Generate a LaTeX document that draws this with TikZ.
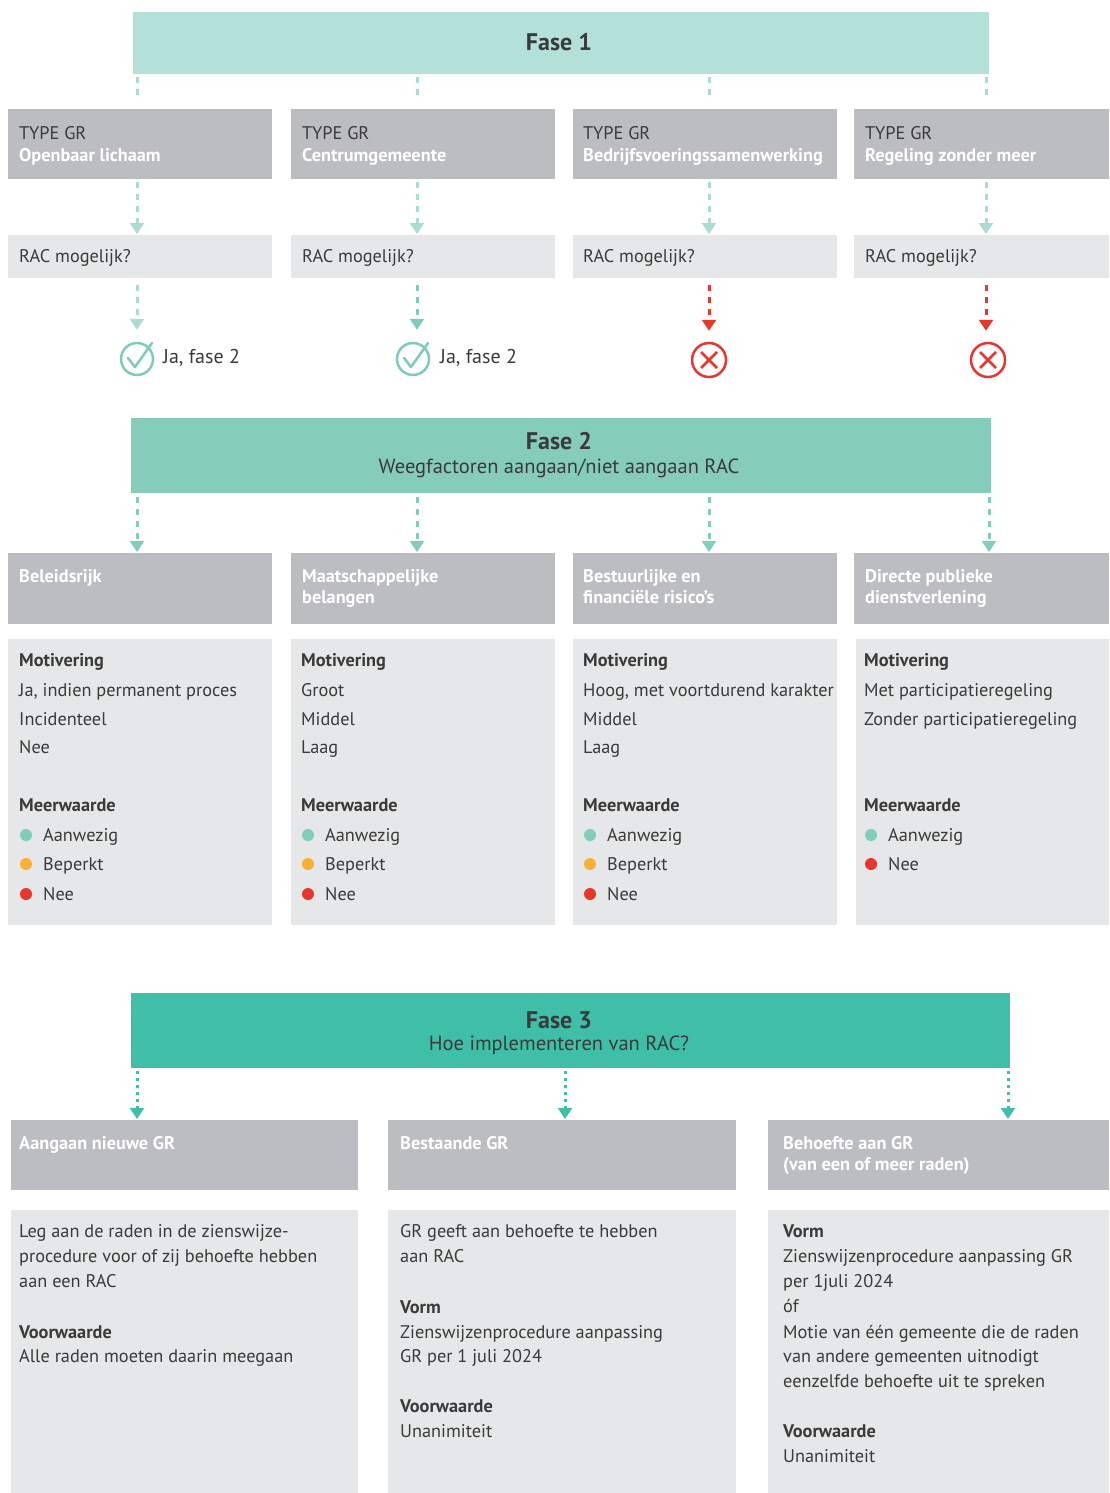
\documentclass[tikz,border=0pt]{standalone}
\usepackage{fontspec}
\setmainfont{PT Sans}
\usetikzlibrary{arrows.meta}
\definecolor{f1c}{HTML}{B3E0D9}
\definecolor{f2c}{HTML}{85CCBB}
\definecolor{f3c}{HTML}{40BFA8}
\definecolor{grayhdr}{HTML}{BCBDC0}
\definecolor{graybox}{HTML}{E6E7E8}
\definecolor{txt}{HTML}{3A3A3A}
\definecolor{redc}{HTML}{E8362D}
\definecolor{orc}{HTML}{F8B133}
\definecolor{tealdot}{HTML}{7FCDBA}
\definecolor{arrlight}{HTML}{ABDCD4}
\definecolor{arrdark}{HTML}{7ECBB9}
\tikzset{
  box/.style={inner sep=0pt, outer sep=0pt, anchor=north west},
  hdrbox/.style={box, fill=grayhdr},
  lbox/.style={box, fill=graybox},
  tx/.style={anchor=base west, inner sep=0pt, font=\fontsize{18.3}{22}\selectfont, text=txt},
  btx/.style={anchor=base west, inner sep=0pt, font=\bfseries\fontsize{18.3}{22}\selectfont, text=txt},
  wtx/.style={anchor=base west, inner sep=0pt, font=\bfseries\fontsize{18.3}{22}\selectfont, text=white},
  ttl/.style={inner sep=0pt, font=\bfseries\fontsize{24}{28}\selectfont, text=txt},
  sub/.style={inner sep=0pt, font=\fontsize{20.5}{24}\selectfont, text=txt},
  tip/.style={-{Triangle[width=14pt,length=11pt]}},
  dashA/.style={line width=3pt, dash pattern=on 6pt off 6pt},
  dotB/.style={line width=3pt, dash pattern=on 3pt off 4pt},
  bul/.style={circle, inner sep=0pt, minimum size=12pt},
}
\begin{document}
\begin{tikzpicture}[x=1pt,y=-1pt]
\useasboundingbox (0,0) rectangle (1109,1493);
\fill[white] (0,0) rectangle (1109,1493);
% arrow x positions
\coordinate (ax1) at (137,0);
\coordinate (ax2) at (417,0);
\coordinate (ax3) at (709,0);
\coordinate (ax4) at (986,0);
\coordinate (bx4) at (989,0);
\coordinate (cx1) at (137,0);
\coordinate (cx2) at (565,0);
\coordinate (cx3) at (1008,0);

% ================= FASE 1 =================
\node[box, fill=f1c, minimum width=856pt, minimum height=62pt] (f1) at (133,12) {};
\node[ttl] (f1t) at (559,42) {Fase 1};

\node[hdrbox, minimum width=264pt, minimum height=70pt] (t1) at (8,109) {};
\node[hdrbox, minimum width=264pt, minimum height=70pt] (t2) at (291,109) {};
\node[hdrbox, minimum width=264pt, minimum height=70pt] (t3) at (573,109) {};
\node[hdrbox, minimum width=255pt, minimum height=70pt] (t4) at (854,109) {};
\node[tx] (t1a) at (19,139.5) {TYPE GR};
\node[wtx] (t1b) at (19,161) {Openbaar lichaam};
\node[tx] (t2a) at (302,139.5) {TYPE GR};
\node[wtx] (t2b) at (302,161) {Centrumgemeente};
\node[tx] (t3a) at (583,139.5) {TYPE GR};
\node[wtx] (t3b) at (583,161) {Bedrijfsvoeringssamenwerking};
\node[tx] (t4a) at (865,139.5) {TYPE GR};
\node[wtx] (t4b) at (865,161) {Regeling zonder meer};

\node[lbox, minimum width=264pt, minimum height=43pt] (r1) at (8,235) {};
\node[lbox, minimum width=264pt, minimum height=43pt] (r2) at (291,235) {};
\node[lbox, minimum width=264pt, minimum height=43pt] (r3) at (573,235) {};
\node[lbox, minimum width=255pt, minimum height=43pt] (r4) at (854,235) {};
\node[tx] (r1t) at (19,262) {RAC mogelijk?};
\node[tx] (r2t) at (302,262) {RAC mogelijk?};
\node[tx] (r3t) at (583,262) {RAC mogelijk?};
\node[tx] (r4t) at (865,262) {RAC mogelijk?};

% dashes fase1 -> types
\foreach \k in {1,2,3,4}{
  \draw[arrlight, dashA, shorten <=3pt, shorten >=8pt] (f1.south -| ax\k) -- (t\k.north -| ax\k);
  \draw[arrlight, dashA, tip, shorten <=3pt, shorten >=1pt] (t\k.south -| ax\k) -- (r\k.north -| ax\k);
}

% outcome icons
\node[circle, draw=arrdark, line width=2.5pt, minimum size=32pt, inner sep=0pt] (c1) at (137,359) {};
\node[circle, draw=arrdark, line width=2.5pt, minimum size=32pt, inner sep=0pt] (c2) at (413,359) {};
\foreach \k in {1,2}{
  \draw[arrdark, line width=2.5pt, line cap=round, line join=round]
    ([shift={(-9pt,1pt)}]c\k.center) -- ([shift={(-2pt,-8pt)}]c\k.center) -- ([shift={(15pt,16pt)}]c\k.center);
}
\node[tx, font=\fontsize{20}{24}\selectfont] (c1t) at (163,363) {Ja, fase 2};
\node[tx, font=\fontsize{20}{24}\selectfont] (c2t) at (440,363) {Ja, fase 2};
\node[circle, draw=redc, line width=2.5pt, minimum size=34pt, inner sep=0pt] (x3) at (709,360) {};
\node[circle, draw=redc, line width=2.5pt, minimum size=34pt, inner sep=0pt] (x4) at (988,360) {};
\foreach \k in {3,4}{
  \draw[redc, line width=2.5pt] ([shift={(-8pt,-8pt)}]x\k.center) -- ([shift={(8pt,8pt)}]x\k.center);
  \draw[redc, line width=2.5pt] ([shift={(-8pt,8pt)}]x\k.center) -- ([shift={(8pt,-8pt)}]x\k.center);
}
\draw[arrlight, dashA, tip, shorten <=7pt, shorten >=12pt] (r1.south -| ax1) -- (c1.north -| ax1);
\draw[arrdark, dashA, tip, shorten <=7pt, shorten >=12pt] (r2.south -| ax2) -- (c2.north -| ax2);
\draw[redc, dashA, tip, shorten <=7pt, shorten >=11pt] (r3.south -| ax3) -- (x3.north);
\draw[redc, dashA, tip, shorten <=7pt, shorten >=11pt] (r4.south -| ax4) -- (x4.north -| ax4);

% ================= FASE 2 =================
\node[box, fill=f2c, minimum width=860pt, minimum height=75pt] (f2) at (131,418) {};
\node[ttl] (f2t) at (559,441) {Fase 2};
\node[sub] (f2s) at (559,468) {Weegfactoren aangaan/niet aangaan RAC};

\node[hdrbox, minimum width=264pt, minimum height=71pt] (h1) at (8,553) {};
\node[hdrbox, minimum width=264pt, minimum height=71pt] (h2) at (291,553) {};
\node[hdrbox, minimum width=264pt, minimum height=71pt] (h3) at (573,553) {};
\node[hdrbox, minimum width=255pt, minimum height=71pt] (h4) at (854,553) {};
\node[wtx] (h1a) at (19,582) {Beleidsrijk};
\node[wtx] (h2a) at (302,582) {Maatschappelijke};
\node[wtx] (h2b) at (302,603) {belangen};
\node[wtx] (h3a) at (583,582) {Bestuurlijke en};
\node[wtx] (h3b) at (583,603) {financiële risico’s};
\node[wtx] (h4a) at (865,582) {Directe publieke};
\node[wtx] (h4b) at (865,603) {dienstverlening};

\draw[f2c, dashA, tip, shorten <=4pt, shorten >=1pt] (f2.south -| ax1) -- (h1.north -| ax1);
\draw[f2c, dashA, tip, shorten <=4pt, shorten >=1pt] (f2.south -| ax2) -- (h2.north -| ax2);
\draw[f2c, dashA, tip, shorten <=4pt, shorten >=1pt] (f2.south -| ax3) -- (h3.north -| ax3);
\draw[f2c, dashA, tip, shorten <=4pt, shorten >=1pt] (f2.south -| bx4) -- (h4.north -| bx4);

\node[lbox, minimum width=264pt, minimum height=286pt] (m1) at (8,639) {};
\node[lbox, minimum width=264pt, minimum height=286pt] (m2) at (291,639) {};
\node[lbox, minimum width=264pt, minimum height=286pt] (m3) at (573,639) {};
\node[lbox, minimum width=253pt, minimum height=286pt] (m4) at (856,639) {};

% column texts
\foreach \x/\a/\b/\c [count=\i] in {19/{Ja, indien permanent proces}/Incidenteel/Nee, 301/Groot/Middel/Laag, 583/{Hoog, met voortdurend karakter}/Middel/Laag}{
  \node[btx] (mo\i) at (\x,666) {Motivering};
  \node[tx] (ma\i) at (\x,696) {\a};
  \node[tx] (mb\i) at (\x,725) {\b};
  \node[tx] (mc\i) at (\x,753) {\c};
  \node[btx] (mw\i) at (\x,811) {Meerwaarde};
  \node[bul, fill=tealdot] (ba\i) at (\x+7,835) {};
  \node[bul, fill=orc] (bb\i) at (\x+7,864) {};
  \node[bul, fill=redc] (bc\i) at (\x+7,894) {};
  \node[tx] (la\i) at (\x+24,841) {Aanwezig};
  \node[tx] (lb\i) at (\x+24,870) {Beperkt};
  \node[tx] (lc\i) at (\x+24,900) {Nee};
}
\node[btx] (mo4) at (864,666) {Motivering};
\node[tx] (ma4) at (864,696) {Met participatieregeling};
\node[tx] (mb4) at (864,725) {Zonder participatieregeling};
\node[btx] (mw4) at (864,811) {Meerwaarde};
\node[bul, fill=tealdot] (ba4) at (871,835) {};
\node[bul, fill=redc] (bc4) at (871,864) {};
\node[tx] (la4) at (888,841) {Aanwezig};
\node[tx] (lc4) at (888,870) {Nee};

% ================= FASE 3 =================
\node[box, fill=f3c, minimum width=879pt, minimum height=75pt] (f3) at (131,993) {};
\node[ttl] (f3t) at (559,1020) {Fase 3};
\node[sub] (f3s) at (559,1045) {Hoe implementeren van RAC?};

\node[hdrbox, minimum width=347pt, minimum height=70pt] (g1) at (11,1120) {};
\node[hdrbox, minimum width=348pt, minimum height=70pt] (g2) at (388,1120) {};
\node[hdrbox, minimum width=341pt, minimum height=70pt] (g3) at (768,1120) {};
\node[wtx] (g1a) at (19,1149) {Aangaan nieuwe GR};
\node[wtx] (g2a) at (400,1149) {Bestaande GR};
\node[wtx] (g3a) at (783,1149) {Behoefte aan GR};
\node[wtx] (g3b) at (783,1170) {(van een of meer raden)};

\draw[f3c, dotB, tip, shorten <=3pt, shorten >=1pt] (f3.south -| cx1) -- (g1.north -| cx1);
\draw[f3c, dotB, tip, shorten <=3pt, shorten >=1pt] (f3.south -| cx2) -- (g2.north -| cx2);
\draw[f3c, dotB, tip, shorten <=3pt, shorten >=1pt] (f3.south -| cx3) -- (g3.north -| cx3);

\node[lbox, minimum width=347pt, minimum height=283pt] (k1) at (11,1210) {};
\node[lbox, minimum width=348pt, minimum height=283pt] (k2) at (388,1210) {};
\node[lbox, minimum width=341pt, minimum height=283pt] (k3) at (768,1210) {};

\foreach \y/\t [count=\i] in {1237/Leg aan de raden in de zienswijze-, 1262/procedure voor of zij behoefte hebben, 1287/aan een RAC, 1338/\textbf{Voorwaarde}, 1362/Alle raden moeten daarin meegaan}
  \node[tx] (pa\i) at (19,\y) {\t};
\foreach \y/\t [count=\i] in {1237/GR geeft aan behoefte te hebben, 1262/aan RAC, 1313/\textbf{Vorm}, 1338/Zienswijzenprocedure aanpassing, 1362/GR per 1 juli 2024, 1412/\textbf{Voorwaarde}, 1437/Unanimiteit}
  \node[tx] (pb\i) at (400,\y) {\t};
\foreach \y/\t [count=\i] in {1237/\textbf{Vorm}, 1262/Zienswijzenprocedure aanpassing GR, 1287/per 1juli 2024, 1312/óf, 1338/Motie van één gemeente die de raden, 1362/van andere gemeenten uitnodigt, 1387/eenzelfde behoefte uit te spreken, 1437/\textbf{Voorwaarde}, 1462/Unanimiteit}
  \node[tx] (pc\i) at (783,\y) {\t};
\end{tikzpicture}
\end{document}
